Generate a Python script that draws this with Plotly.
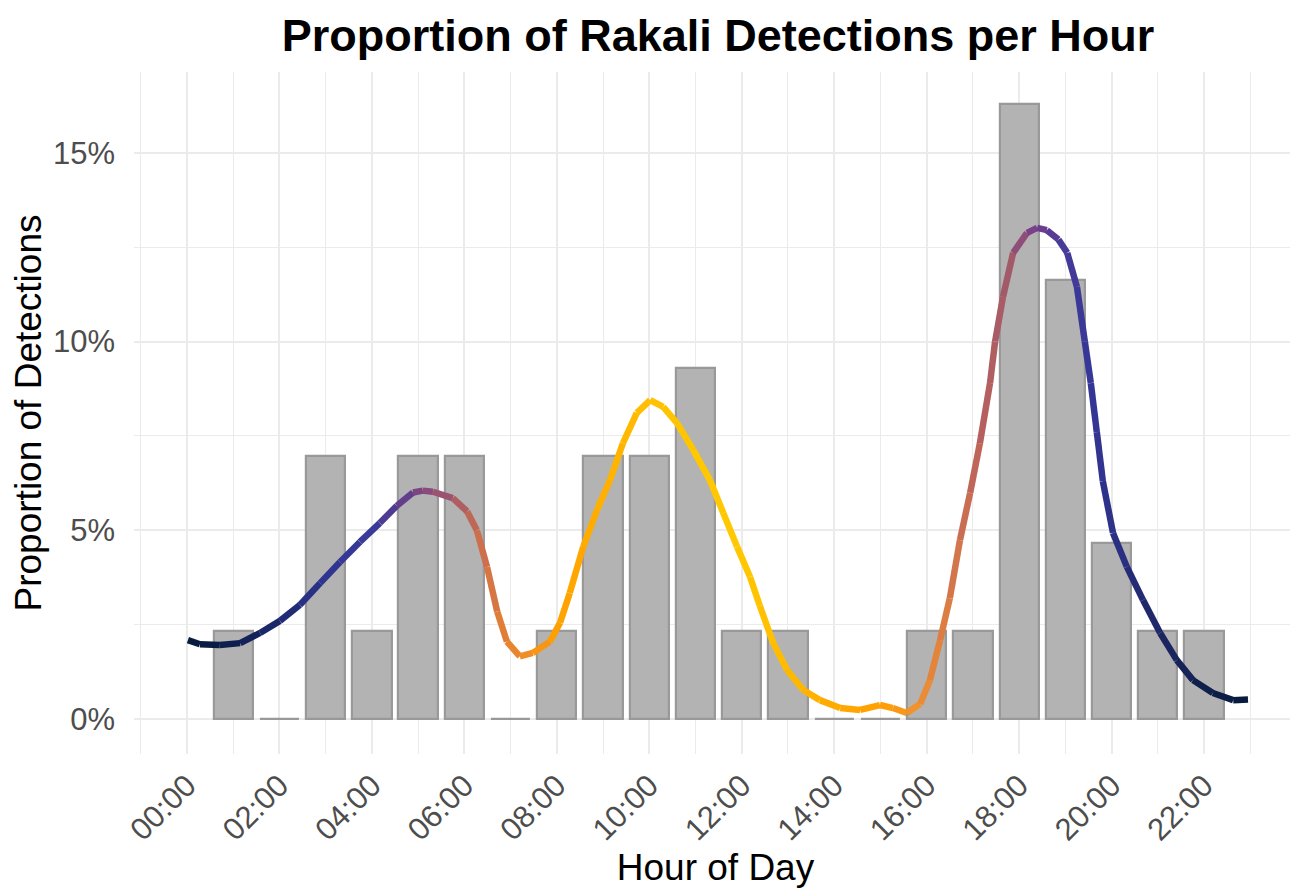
import plotly.graph_objects as go

# hourly proportion of detections (bars)
bar_hours = [1, 2, 3, 4, 5, 6, 7, 8, 9, 10, 11, 12, 13, 14, 15, 16, 17, 18, 19, 20, 21, 22]
bar_props = [0.0233, 0.0, 0.0698, 0.0233, 0.0698, 0.0698, 0.0, 0.0233, 0.0698, 0.0698, 0.0930,
             0.0233, 0.0233, 0.0, 0.0, 0.0233, 0.0233, 0.1628, 0.1163, 0.0465, 0.0233, 0.0233]

# smoothed activity curve (hour, percent)
curve_hour = [0.02, 0.28, 0.71, 1.15, 1.58, 2.01, 2.44, 2.88, 3.31, 3.74, 4.17, 4.54, 4.89, 5.10,
              5.32, 5.75, 6.06, 6.27, 6.49, 6.71, 6.92, 7.20, 7.48, 7.85, 8.07, 8.28, 8.57, 8.87,
              9.15, 9.43, 9.73, 10.02, 10.30, 10.60, 10.95, 11.31, 11.60, 11.90, 12.18, 12.39,
              12.68, 12.98, 13.33, 13.69, 14.13, 14.56, 14.99, 15.27, 15.57, 15.86, 16.07, 16.29,
              16.50, 16.72, 16.94, 17.15, 17.37, 17.48, 17.65, 17.87, 18.17, 18.39, 18.60, 18.85,
              19.04, 19.25, 19.42, 19.55, 19.68, 19.81, 20.03, 20.33, 20.68, 21.05, 21.41, 21.76,
              22.19, 22.63, 22.95]
curve_pct = [2.09, 1.98, 1.96, 2.01, 2.28, 2.60, 3.02, 3.60, 4.16, 4.69, 5.19, 5.65, 6.00, 6.05,
             6.02, 5.85, 5.50, 5.00, 4.03, 2.85, 2.05, 1.66, 1.75, 2.05, 2.55, 3.34, 4.56, 5.54,
             6.33, 7.31, 8.11, 8.45, 8.27, 7.84, 7.13, 6.33, 5.46, 4.56, 3.76, 3.00,
             2.01, 1.30, 0.77, 0.50, 0.29, 0.24, 0.37, 0.29, 0.16, 0.40, 1.03, 2.09,
             3.20, 4.74, 5.99, 7.30, 8.90, 10.00, 11.18, 12.35, 12.88, 13.01, 12.95, 12.70,
             12.35, 11.45, 10.00, 8.90, 7.60, 6.30, 4.93, 4.03, 3.15, 2.28, 1.56, 1.03,
             0.69, 0.50, 0.52]

# colour of the curve along the day
colour_hour = [0, 1, 2, 3, 4, 4.6, 5.2, 5.8, 6.3, 6.8, 7.3, 8, 9, 10, 11, 12, 13, 14, 15,
               15.8, 16.5, 17.2, 17.8, 18.3, 18.9, 19.5, 20.2, 21, 22, 23]
colour_hex = ["#061a3a", "#0d1f4d", "#1e2a6e", "#2e3590", "#3b3a98", "#5a3d8e", "#8a4a7c",
              "#a85a68", "#c86c50", "#e07e3a", "#f08c28", "#ffa000", "#ffb000", "#ffc000",
              "#ffc800", "#ffc800", "#ffba00", "#ffaa00", "#ffa000", "#f09030", "#d87a48",
              "#b8605e", "#a05a6a", "#7a3f8a", "#4a3a98", "#363797", "#2a2f80", "#1e2866",
              "#10204c", "#061a3a"]

tick_vals = list(range(0, 24, 2))
tick_text = [f"{h:02d}:00" for h in tick_vals]


def colour_at(h):
    for i in range(len(colour_hour) - 1):
        if colour_hour[i] <= h <= colour_hour[i + 1]:
            t = (h - colour_hour[i]) / (colour_hour[i + 1] - colour_hour[i])
            a = colour_hex[i].lstrip("#")
            b = colour_hex[i + 1].lstrip("#")
            rgb = [round(int(a[k:k + 2], 16) * (1 - t) + int(b[k:k + 2], 16) * t) for k in (0, 2, 4)]
            return f"rgb({rgb[0]},{rgb[1]},{rgb[2]})"
    return colour_hex[-1]


fig = go.Figure()

fig.add_trace(go.Bar(
    x=bar_hours,
    y=bar_props,
    width=0.85,
    marker=dict(color="#b3b3b3", line=dict(color="#999999", width=2.2)),
    showlegend=False,
))

# gradient line drawn as short segments
for i in range(len(curve_hour) - 1):
    mid = (curve_hour[i] + curve_hour[i + 1]) / 2
    fig.add_trace(go.Scatter(
        x=curve_hour[i:i + 2],
        y=[v / 100 for v in curve_pct[i:i + 2]],
        mode="lines",
        line=dict(color=colour_at(mid), width=6.5),
        showlegend=False,
        hoverinfo="skip",
    ))

# page body has an 8px margin, so the figure is 8px smaller than the window
fig.update_layout(
    width=1290,
    height=885,
    margin=dict(l=126, r=1, t=64, b=139),
    plot_bgcolor="white",
    paper_bgcolor="white",
    font=dict(family="Liberation Sans, Arial, sans-serif"),
    title=dict(
        text="<b>Proportion of Rakali Detections per Hour</b>",
        font=dict(size=45, color="black"),
        x=710 / 1290, xanchor="center",
        y=1 - 27 / 885, yanchor="middle",
    ),
    bargap=0,
)

fig.update_xaxes(
    range=[-1.146, 24.01],
    tickvals=tick_vals,
    ticktext=tick_text,
    tickangle=-45,
    tickfont=dict(size=31, color="#4d4d4d"),
    ticks="",
    ticklabelstandoff=6,
    automargin=False,
    showgrid=True,
    gridcolor="#ebebeb",
    gridwidth=2,
    minor=dict(dtick=1, tick0=1, showgrid=True, gridcolor="#ebebeb", gridwidth=1.2),
    zeroline=False,
    showline=False,
    title=dict(text="Hour of Day", font=dict(size=37, color="black"), standoff=6),
)

fig.update_yaxes(
    range=[-0.00927, 0.1714],
    tickvals=[0, 0.05, 0.10, 0.15],
    ticktext=["0%", "5%", "10%", "15%"],
    tickfont=dict(size=31, color="#4d4d4d"),
    ticks="",
    ticklabelstandoff=18,
    automargin=False,
    showgrid=True,
    gridcolor="#ebebeb",
    gridwidth=2,
    minor=dict(dtick=0.025, tick0=0.025, showgrid=True, gridcolor="#ebebeb", gridwidth=1.2),
    zeroline=False,
    showline=False,
    title=dict(text="Proportion of Detections", font=dict(size=37, color="black"), standoff=12),
)

fig.write_html("out.html")
